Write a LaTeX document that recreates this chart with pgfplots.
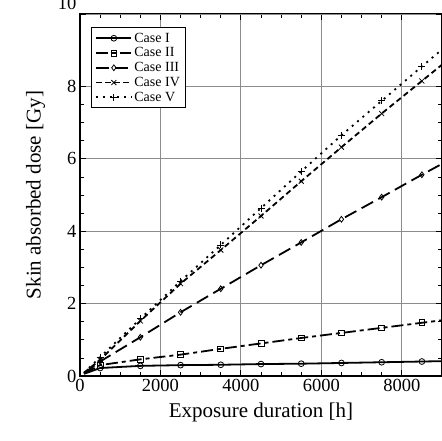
\documentclass[border=0pt]{standalone}
\usepackage{fontspec}
\setmainfont{Liberation Serif}
\usepackage{pgfplots}
\pgfplotsset{compat=1.18}
\definecolor{gridgray}{RGB}{140,140,143}

\begin{document}
\begin{tikzpicture}
\begin{axis}[
  scale only axis,
  width=362pt, height=362pt,
  xmin=0, xmax=9000, ymin=0, ymax=10,
  xtick={0,2000,4000,6000,8000},
  ytick={0,2,4,6,8},
  extra y ticks={10},
  extra y tick style={yticklabel style={yshift=11pt}},
  minor x tick num=3, minor y tick num=3,
  scaled x ticks=false,
  /pgf/number format/1000 sep={},
  /pgf/number format/assume math mode=true,
  grid=major,
  major grid style={gridgray, line width=0.9pt},
  tick align=inside, tick pos=both,
  major tick length=6pt, minor tick length=4pt,
  every tick/.style={black, line width=0.8pt},
  axis line style={line width=1.1pt},
  tick label style={font=\fontsize{18.5}{20}\selectfont},
  label style={font=\fontsize{21}{23}\selectfont},
  xlabel={Exposure duration [h]},
  ylabel={Skin absorbed dose [Gy]},
  xlabel style={yshift=-4pt},
  ylabel style={yshift=6pt},
  legend cell align=left,
  legend style={at={(0.03,0.963)}, anchor=north west,
    draw=black, line width=0.9pt, inner xsep=4pt, inner ysep=3pt},
  legend image code/.code={%
    \draw[#1, mark indices={2}] plot coordinates {(0cm,0cm) (0.62cm,0cm) (1.24cm,0cm)};},
  every axis plot/.append style={black, line width=1.8pt, mark size=2.9pt,
    mark options={solid, line width=0.8pt, fill=white}},
  mark indices={2,3,4,5,6,7,8,9,10},
]
% Case I
\addplot[mark=o] coordinates {
 (100,0.06) (500,0.22) (1500,0.28) (2500,0.30) (3500,0.31) (4500,0.33)
 (5500,0.34) (6500,0.36) (7500,0.38) (8500,0.40) (9000,0.41)};
\addlegendentry{\fontsize{14}{16}\selectfont Case I}
% Case II
\addplot[mark=square, dash pattern=on 12pt off 4pt on 4pt off 4pt] coordinates {
 (100,0.07) (500,0.30) (1500,0.46) (2500,0.59) (3500,0.75) (4500,0.90)
 (5500,1.05) (6500,1.19) (7500,1.33) (8500,1.47) (9000,1.54)};
\addlegendentry{\fontsize{14}{16}\selectfont Case II}
% Case III
\addplot[mark=diamond, dash pattern=on 13pt off 6pt] coordinates {
 (100,0.08) (500,0.40) (1500,1.07) (2500,1.76) (3500,2.41) (4500,3.06)
 (5500,3.69) (6500,4.33) (7500,4.94) (8500,5.56) (9000,5.86)};
\addlegendentry{\fontsize{14}{16}\selectfont Case III}
% Case IV
\addplot[mark=x, mark size=3.5pt, dash pattern=on 5.5pt off 3.5pt] coordinates {
 (100,0.09) (500,0.45) (1500,1.52) (2500,2.55) (3500,3.48) (4500,4.42)
 (5500,5.38) (6500,6.32) (7500,7.25) (8500,8.15) (9000,8.60)};
\addlegendentry{\fontsize{14}{16}\selectfont Case IV}
% Case V
\addplot[mark=+, mark size=3.5pt, dash pattern=on 2pt off 5pt] coordinates {
 (100,0.09) (500,0.52) (1500,1.58) (2500,2.62) (3500,3.62) (4500,4.64)
 (5500,5.65) (6500,6.65) (7500,7.60) (8500,8.55) (9000,9.02)};
\addlegendentry{\fontsize{14}{16}\selectfont Case V}
\coordinate (bl) at (rel axis cs:0,0);
\coordinate (tr) at (rel axis cs:1,1);
\end{axis}
\pgfresetboundingbox
\path[use as bounding box] ([xshift=-80pt,yshift=-64pt]bl) rectangle ([yshift=14pt]tr);
\end{tikzpicture}
\end{document}
